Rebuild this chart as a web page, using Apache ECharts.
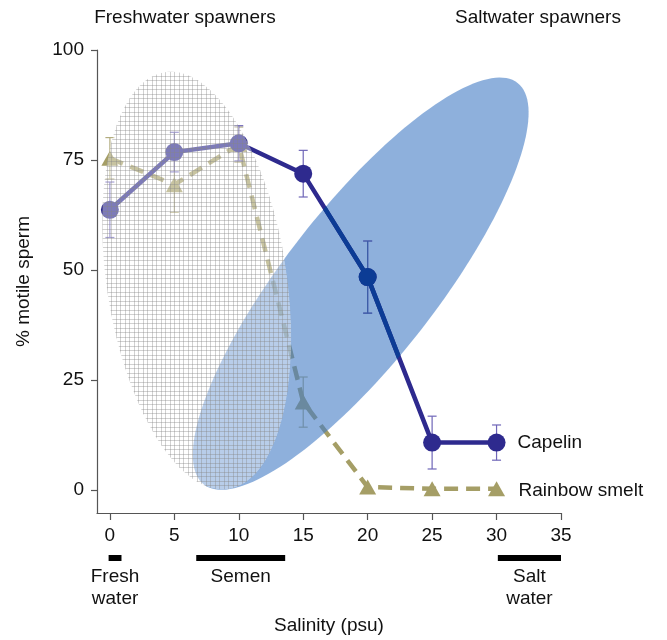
<!DOCTYPE html>
<html><head><meta charset="utf-8">
<script src="https://cdn.jsdelivr.net/npm/echarts@6/dist/echarts.min.js"></script>
<style>html,body{margin:0;padding:0;background:#fff}#c{width:667px;height:640px}</style>
</head><body><div id="c"></div>
<script>
const salinity = [0, 5, 10, 15, 20, 25, 30];
const capelin = [63.7, 76.8, 78.8, 71.9, 48.4, 10.8, 10.8];
const capelinErr = [6.3, 4.5, 4.0, 5.3, 8.2, 6.0, 4.0];
const smelt = [75.4, 69.4, 78.5, 20.0, 0.7, 0.3, 0.3];
const smeltErr = [4.7, 6.3, 4.0, 5.7, 0, 0, 0];
const xTicks = [0, 5, 10, 15, 20, 25, 30, 35];
const yTicks = [0, 25, 50, 75, 100];
const rangeStart = [-0.1, 6.7, 30.1];
const rangeEnd = [0.9, 13.6, 35];
const rangeNames = ['Fresh\nwater', 'Semen', 'Salt\nwater'];
const topLabels = ['Freshwater spawners', 'Saltwater spawners'];
// regions: [centre x, centre y, semi-major (x units), semi-minor (x units), angle deg]
const freshRegion = [6.74, 47.6, 16.36, 6.98, 98.7];
const saltRegion = [19.46, 46.9, 19.77, 5.89, 52];

const FONT = 'Liberation Sans, Arial, Helvetica, sans-serif';
const C_CAP = '#2e2a8e', C_CAP_IN = '#0c3c95', C_SMELT = '#a59e66';

function ellipsePts(api, e, n) {
  const c = api.coord([e[0], e[1]]);
  const u = api.size([1, 0])[0];
  const a = e[2] * u, b = e[3] * u, th = e[4] * Math.PI / 180;
  const pts = [];
  for (let i = 0; i < n; i++) {
    const t = 2 * Math.PI * i / n;
    pts.push([c[0] + a * Math.cos(th) * Math.cos(t) - b * Math.sin(th) * Math.sin(t),
              c[1] - (a * Math.sin(th) * Math.cos(t) + b * Math.cos(th) * Math.sin(t))]);
  }
  return pts;
}

function errSeries(vals, errs, color, z) {
  return {
    type: 'custom', z: z, silent: true,
    data: salinity.map((x, i) => [x, vals[i], errs[i]]),
    renderItem(params, api) {
      const x = api.value(0), y = api.value(1), e = api.value(2);
      if (!e) return;
      const hi = api.coord([x, y + e]), lo = api.coord([x, y - e]);
      const w = 4.5;
      const st = { stroke: color, lineWidth: 1.2 };
      return { type: 'group', children: [
        { type: 'line', shape: { x1: hi[0], y1: hi[1], x2: lo[0], y2: lo[1] }, style: st },
        { type: 'line', shape: { x1: hi[0] - w, y1: hi[1], x2: hi[0] + w, y2: hi[1] }, style: st },
        { type: 'line', shape: { x1: lo[0] - w, y1: lo[1], x2: lo[0] + w, y2: lo[1] }, style: st }
      ]};
    }
  };
}

const chart = echarts.init(document.getElementById('c'));
chart.setOption({
  animation: false,
  textStyle: { fontFamily: FONT },
  grid: { left: 97, right: 106, top: 50, bottom: 126 },
  xAxis: {
    type: 'value', min: -1, max: 35,
    name: 'Salinity (psu)', nameLocation: 'middle', nameGap: 103,
    nameTextStyle: { fontSize: 19, color: '#111', fontFamily: FONT },
    axisLine: { show: true, onZero: false, lineStyle: { color: '#555', width: 1.2 } },
    axisTick: { show: true, length: 7, customValues: xTicks, lineStyle: { color: '#555', width: 1.2 } },
    axisLabel: { customValues: xTicks, fontSize: 19, color: '#111', margin: 13, fontFamily: FONT },
    splitLine: { show: false }
  },
  yAxis: {
    type: 'value', min: -5.2, max: 100,
    name: '% motile sperm', nameLocation: 'middle', nameGap: 64, nameRotate: 90,
    nameTextStyle: { fontSize: 19, color: '#111', fontFamily: FONT },
    axisLine: { show: true, onZero: false, lineStyle: { color: '#555', width: 1.2 } },
    axisTick: { show: true, length: 6, customValues: yTicks, lineStyle: { color: '#555', width: 1.2 } },
    axisLabel: { customValues: yTicks, fontSize: 19, color: '#111', margin: 13, fontFamily: FONT },
    splitLine: { show: false }
  },
  graphic: [
    { type: 'text', x: 185, y: 18, style: { text: topLabels[0], fontSize: 19, fontFamily: FONT, fill: '#111', textAlign: 'center', textVerticalAlign: 'middle', align: 'center', verticalAlign: 'middle' } },
    { type: 'text', x: 538, y: 18, style: { text: topLabels[1], fontSize: 19, fontFamily: FONT, fill: '#111', textAlign: 'center', textVerticalAlign: 'middle', align: 'center', verticalAlign: 'middle' } }
  ],
  series: [
    errSeries(smelt, smeltErr, '#b3ad80', 1),
    {
      type: 'line', name: 'Rainbow smelt', z: 2,
      data: salinity.map((x, i) => [x, smelt[i]]),
      symbol: 'triangle', symbolSize: [17, 15],
      itemStyle: { color: C_SMELT },
      lineStyle: { color: C_SMELT, width: 4.5, type: [14, 8] },
      endLabel: { show: true, formatter: '{a}', distance: 22, offset: [0, 2], fontSize: 19, color: '#111', fontFamily: FONT }
    },
    {
      type: 'custom', z: 3, silent: true, data: [[saltRegion[0], saltRegion[1]]],
      renderItem(params, api) {
        return { type: 'polygon', shape: { points: ellipsePts(api, saltRegion, 160) }, style: { fill: 'rgba(67,123,197,0.6)' } };
      }
    },
    errSeries(capelin, capelinErr, '#6f66b8', 4),
    {
      type: 'line', name: 'Capelin', z: 5,
      data: salinity.map((x, i) => [x, capelin[i]]),
      symbol: 'circle', symbolSize: 18,
      itemStyle: { color: C_CAP },
      lineStyle: { color: C_CAP, width: 4.5 },
      endLabel: { show: true, formatter: '{a}', distance: 21, fontSize: 19, color: '#111', fontFamily: FONT }
    },
    {
      type: 'custom', z: 6, silent: true, data: [[salinity[0], capelin[0]]],
      renderItem(params, api) {
        const pts = salinity.map((x, i) => api.coord([x, capelin[i]]));
        const ch = [{ type: 'polyline', shape: { points: pts }, style: { stroke: C_CAP_IN, lineWidth: 4.5, fill: null } }];
        salinity.forEach((x, i) => {
          const hi = api.coord([x, capelin[i] + capelinErr[i]]), lo = api.coord([x, capelin[i] - capelinErr[i]]);
          const st = { stroke: '#3a5ea8', lineWidth: 1.2 };
          ch.push({ type: 'line', shape: { x1: hi[0], y1: hi[1], x2: lo[0], y2: lo[1] }, style: st });
          ch.push({ type: 'line', shape: { x1: hi[0] - 4.5, y1: hi[1], x2: hi[0] + 4.5, y2: hi[1] }, style: st });
          ch.push({ type: 'line', shape: { x1: lo[0] - 4.5, y1: lo[1], x2: lo[0] + 4.5, y2: lo[1] }, style: st });
        });
        pts.forEach(p => ch.push({ type: 'circle', shape: { cx: p[0], cy: p[1], r: 9 }, style: { fill: C_CAP_IN } }));
        return { type: 'group', children: ch, clipPath: { type: 'polygon', shape: { points: ellipsePts(api, saltRegion, 160) } } };
      }
    },
    {
      type: 'custom', z: 7, silent: true, data: [[freshRegion[0], freshRegion[1]]],
      renderItem(params, api) {
        const pts = ellipsePts(api, freshRegion, 160);
        let x0 = Infinity, x1 = -Infinity, y0 = Infinity, y1 = -Infinity;
        pts.forEach(p => { x0 = Math.min(x0, p[0]); x1 = Math.max(x1, p[0]); y0 = Math.min(y0, p[1]); y1 = Math.max(y1, p[1]); });
        const ch = [{ type: 'polygon', shape: { points: pts }, style: { fill: 'rgba(255,255,255,0.38)' } }];
        const st = { stroke: 'rgba(135,135,135,0.38)', lineWidth: 1 };
        for (let i = 0, x = Math.floor(x0) + 0.5; x <= x1; i++, x = Math.floor(x0) + 0.5 + Math.round(i * 4.5))
          ch.push({ type: 'line', shape: { x1: x, y1: y0, x2: x, y2: y1 }, style: st });
        for (let i = 0, y = Math.floor(y0) + 0.5; y <= y1; i++, y = Math.floor(y0) + 0.5 + Math.round(i * 4.5))
          ch.push({ type: 'line', shape: { x1: x0, y1: y, x2: x1, y2: y }, style: st });
        return { type: 'group', children: ch, clipPath: { type: 'polygon', shape: { points: pts } } };
      }
    },
    {
      type: 'custom', z: 8, silent: true, clip: false,
      data: rangeStart.map((s, i) => [s, rangeEnd[i]]),
      renderItem(params, api) {
        const a = api.coord([api.value(0), -5.2]), b = api.coord([api.value(1), -5.2]);
        const yb = a[1] + 42;
        return { type: 'group', children: [
          { type: 'rect', shape: { x: a[0], y: yb, width: b[0] - a[0], height: 6 }, style: { fill: '#000' } },
          { type: 'text', x: (a[0] + b[0]) / 2, y: yb + 11, style: { text: rangeNames[params.dataIndex], fontSize: 19, lineHeight: 22, fontFamily: FONT, fill: '#111', textAlign: 'center', textVerticalAlign: 'top', align: 'center', verticalAlign: 'top' } }
        ]};
      }
    }
  ]
});
</script></body></html>
